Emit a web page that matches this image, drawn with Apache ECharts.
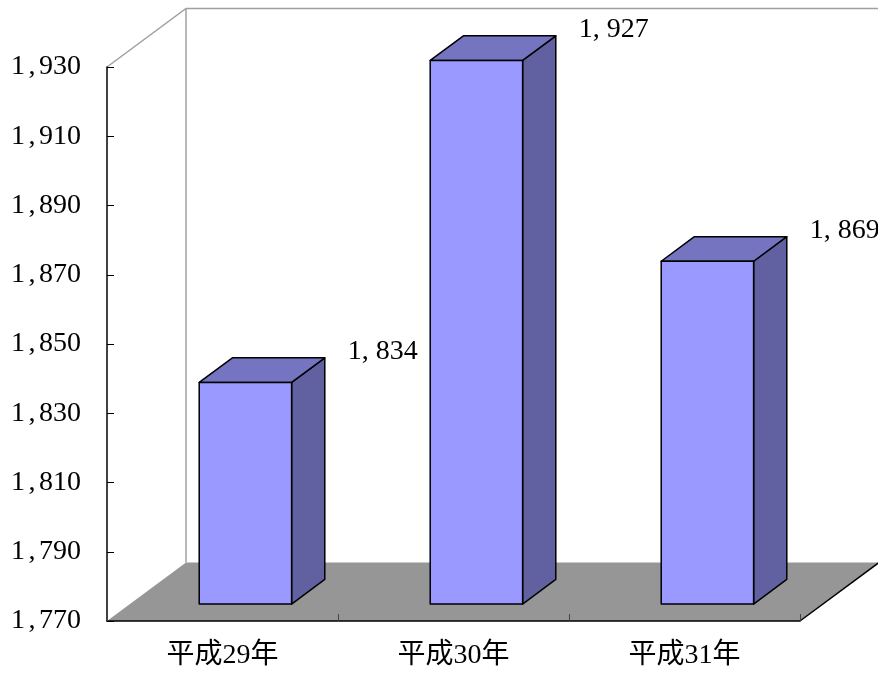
<!DOCTYPE html>
<html>
<head>
<meta charset="utf-8">
<style>
  html, body { margin: 0; padding: 0; background: #ffffff; }
  #chart { width: 878px; height: 675px; }
</style>
<script src="https://cdn.jsdelivr.net/npm/echarts@6/dist/echarts.min.js"></script>
</head>
<body>
<div id="chart"></div>
<script>
// Categories and values
const categories = ['平成29年', '平成30年', '平成31年'];
const values = [1834, 1927, 1869];

// Value axis settings
const yMin = 1770;
const yMax = 1930;
const yStep = 20;

// 3D look: how far the floor recedes, and where the bars sit within that depth
const DEPTH_X = 79;
const DEPTH_Y = -58.5;
const FRONT_FRAC = 0.29;
const BACK_FRAC = 0.71;
const BAR_RATIO = 0.4;

const NUM_FONT = "'Liberation Serif', 'Times New Roman', serif";
const CJK_FONT = "'Liberation Serif', 'Noto Sans CJK JP', serif";

const COLOR_FRONT = '#9999FF';
const COLOR_TOP = '#7474C0';
const COLOR_SIDE = '#6161A1';
const COLOR_FLOOR = '#969696';
const COLOR_WALL = '#a0a0a0';

// "1,834" drawn with a half-width slot for the comma, like a fixed-pitch face
function richNumber(v) {
  const s = Math.round(v).toLocaleString('en-US');
  return s.split(',').map(p => '{d|' + p + '}').join('{c|,}');
}
const numberRich = {
  d: { fontFamily: NUM_FONT, fontSize: 28, color: '#000' },
  c: { fontFamily: NUM_FONT, fontSize: 28, color: '#000', width: 14, align: 'left' }
};

// Floor and back walls, derived from the grid rectangle
function renderRoom(params, api) {
  const cs = params.coordSys;
  const x = cs.x, y = cs.y, w = cs.width, h = cs.height;
  const bx = x + DEPTH_X, by = y + DEPTH_Y;
  return {
    type: 'group',
    children: [
      {
        type: 'polygon',
        shape: { points: [[x, y + h], [x + w, y + h], [x + w + DEPTH_X, y + h + DEPTH_Y], [bx, y + h + DEPTH_Y]] },
        style: { fill: COLOR_FLOOR, stroke: null }
      },
      {
        type: 'polyline',
        shape: { points: [[x, y], [bx, by], [bx + w, by], [bx + w, by + h]] },
        style: { stroke: COLOR_WALL, lineWidth: 1.5, fill: null }
      },
      {
        type: 'line',
        shape: { x1: bx, y1: by, x2: bx, y2: by + h },
        style: { stroke: COLOR_WALL, lineWidth: 1.5 }
      },
      {
        type: 'line',
        shape: { x1: x + w, y1: y + h, x2: x + w + DEPTH_X, y2: y + h + DEPTH_Y },
        style: { stroke: '#000', lineWidth: 1.5 }
      }
    ]
  };
}

// A 3D box per category: front face, top face, right side, plus its value label
function renderBar(params, api) {
  const cat = api.value(0);
  const val = api.value(1);
  const topPt = api.coord([cat, val]);
  const basePt = api.coord([cat, yMin]);
  const band = api.size([1, 0])[0];
  const w = band * BAR_RATIO;
  const ox = DEPTH_X * FRONT_FRAC, oy = DEPTH_Y * FRONT_FRAC;
  const dx = DEPTH_X * (BACK_FRAC - FRONT_FRAC), dy = DEPTH_Y * (BACK_FRAC - FRONT_FRAC);
  const x0 = topPt[0] - w / 2 + ox;
  const x1 = x0 + w;
  const yt = topPt[1] + oy;
  const yb = basePt[1] + oy;
  const edge = { stroke: '#000', lineWidth: 1.5, lineJoin: 'round' };
  return {
    type: 'group',
    children: [
      {
        type: 'polygon',
        shape: { points: [[x1, yt], [x1 + dx, yt + dy], [x1 + dx, yb + dy], [x1, yb]] },
        style: Object.assign({ fill: COLOR_SIDE }, edge)
      },
      {
        type: 'polygon',
        shape: { points: [[x0, yt], [x0 + dx, yt + dy], [x1 + dx, yt + dy], [x1, yt]] },
        style: Object.assign({ fill: COLOR_TOP }, edge)
      },
      {
        type: 'rect',
        shape: { x: x0, y: yt, width: w, height: yb - yt },
        style: Object.assign({ fill: COLOR_FRONT }, edge)
      },
      {
        type: 'text',
        x: x1 + dx + 23,
        y: yt + dy - 6,
        style: {
          text: richNumber(val),
          rich: numberRich,
          align: 'left',
          verticalAlign: 'middle'
        }
      }
    ]
  };
}

const chart = echarts.init(document.getElementById('chart'), null, { renderer: 'canvas' });

chart.setOption({
  animation: false,
  backgroundColor: '#ffffff',
  grid: {
    left: 107,
    right: 78,
    top: 67,
    bottom: 54,
    containLabel: false,
    outerBoundsMode: 'none'
  },
  xAxis: {
    type: 'category',
    data: categories,
    boundaryGap: true,
    z: 2,
    axisLine: { show: true, lineStyle: { color: '#000', width: 1.5 } },
    axisTick: { show: true, inside: true, length: 7, alignWithLabel: false, lineStyle: { color: '#444', width: 1 } },
    axisLabel: {
      margin: 21,
      color: '#000',
      fontSize: 28,
      fontFamily: CJK_FONT
    },
    splitLine: { show: false }
  },
  yAxis: {
    type: 'value',
    min: yMin,
    max: yMax,
    interval: yStep,
    z: 2,
    axisLine: { show: true, lineStyle: { color: '#000', width: 1.5 } },
    axisTick: { show: true, inside: true, length: 7, lineStyle: { color: '#000', width: 1 } },
    axisLabel: {
      margin: 26,
      formatter: v => richNumber(v),
      rich: numberRich
    },
    splitLine: { show: false }
  },
  series: [
    {
      type: 'custom',
      z: 1,
      renderItem: renderRoom,
      data: [[0, yMin]],
      silent: true
    },
    {
      type: 'custom',
      z: 3,
      renderItem: renderBar,
      data: values.map((v, i) => [i, v]),
      silent: true
    }
  ]
});
</script>
</body>
</html>
